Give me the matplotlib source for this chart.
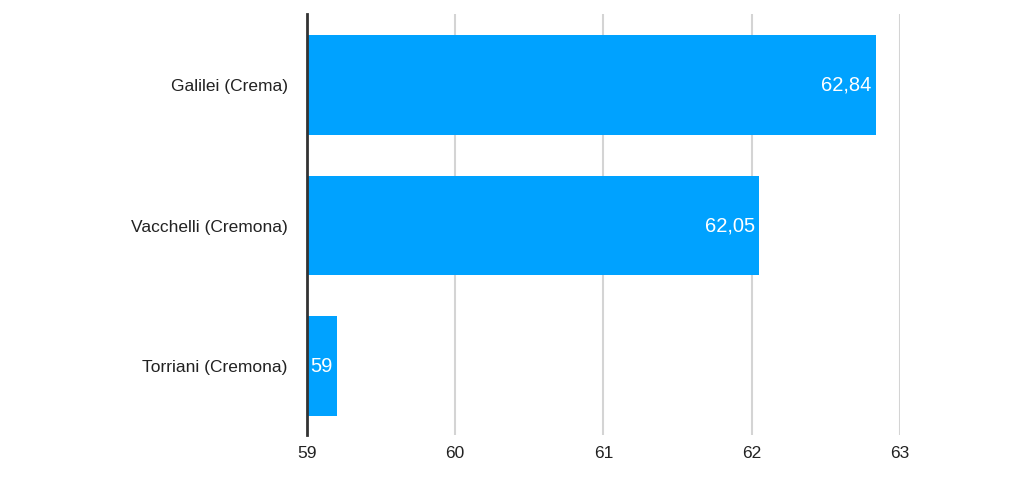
import matplotlib
matplotlib.use("Agg")
import matplotlib.pyplot as plt

# data
schools = ["Torriani (Cremona)", "Vacchelli (Cremona)", "Galilei (Crema)"]
values = [59.2, 62.05, 62.84]
value_labels = ["59", "62,05", "62,84"]
x_ticks = [59, 60, 61, 62, 63]

plt.rcParams['font.family'] = ['Liberation Sans', 'DejaVu Sans']

fig = plt.figure(figsize=(10.24, 4.84), dpi=100)
ax = fig.add_axes([0.2998, 0.1012, 0.5791, 0.8698])

bar_color = '#00a2ff'
y = list(range(len(schools)))
ax.barh(y, [v - 59 for v in values], left=59, height=0.71, color=bar_color, zorder=3)

for yi, v, lab in zip(y, values, value_labels):
    ax.text(v - 0.03, yi, lab, ha='right', va='center', color='white',
            fontsize=14.5, zorder=4)

ax.set_xlim(59, 63)
ax.set_ylim(-0.49, 2.505)
ax.set_xticks(x_ticks)
ax.set_xticklabels([str(t) for t in x_ticks], fontsize=12.5, color='#222222')
ax.set_yticks(y)
ax.set_yticklabels(schools, fontsize=12.5, color='#222222')
ax.tick_params(axis='x', length=0, pad=8)
ax.tick_params(axis='y', length=0, pad=14)

ax.grid(axis='x', color='#d4d4d4', linewidth=1.5, zorder=0)
for s in ['top', 'right', 'bottom']:
    ax.spines[s].set_visible(False)
ax.spines['left'].set_color('#333333')
ax.spines['left'].set_linewidth(2)
ax.spines['left'].set_zorder(5)

fig.savefig('out.png', dpi=100, facecolor='white')
